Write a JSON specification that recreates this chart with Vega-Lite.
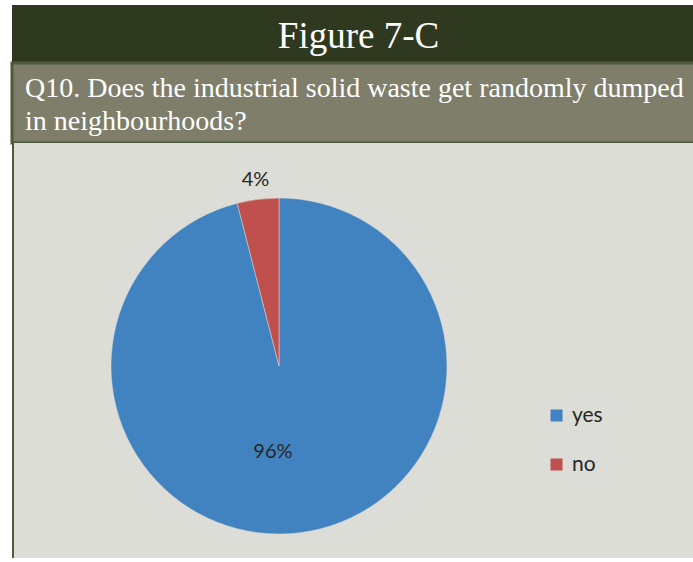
{
  "$schema": "https://vega.github.io/schema/vega-lite/v6.json",
  "background": "#ffffff",
  "padding": {"left": 10, "top": 5, "right": 0, "bottom": 4},
  "bounds": "flush",
  "spacing": 0,
  "config": {"view": {"stroke": null}, "concat": {"spacing": 0}},
  "vconcat": [
    {
      "width": 683,
      "height": 58,
      "view": {"fill": "#2f3920", "stroke": null},
      "data": {"values": [{"heading": "Figure 7-C"}]},
      "mark": {"type": "text", "font": "Liberation Serif", "fontSize": 37, "color": "#ffffff", "baseline": "middle", "dy": 3, "dx": 5},
      "encoding": {"text": {"field": "heading", "type": "nominal"}}
    },
    {
      "width": 683,
      "height": 80,
      "view": {"fill": "#7e7e6a", "stroke": "#4f5a3c", "strokeWidth": 3},
      "data": {"values": [{"question": ["Q10. Does the industrial solid waste get randomly dumped", "in neighbourhoods?"]}]},
      "mark": {"type": "text", "font": "Liberation Serif", "fontSize": 28, "color": "#ffffff", "align": "left", "baseline": "alphabetic", "lineHeight": 33},
      "encoding": {"text": {"field": "question", "type": "nominal"}, "x": {"value": 13}, "y": {"value": 34}}
    },
    {
      "spacing": 0,
      "bounds": "flush",
      "hconcat": [
        {
          "width": 2,
          "height": 415,
          "view": {"fill": "#4f5a3c", "stroke": null},
          "data": {"values": [{}]},
          "mark": {"type": "text"},
          "encoding": {"text": {"value": ""}}
        },
        {
          "spacing": 0,
          "bounds": "flush",
          "vconcat": [
            {
              "width": 681,
              "height": 31,
              "view": {"fill": "#dcddd7", "stroke": null},
              "data": {"values": [{}]},
              "mark": {"type": "text"},
              "encoding": {"text": {"value": ""}}
            },
            {
              "spacing": 0,
              "bounds": "flush",
              "resolve": {"scale": {"color": "independent", "theta": "independent"}, "legend": {"color": "independent"}},
              "hconcat": [
                {
                  "width": 530,
                  "height": 384,
                  "view": {"fill": "#dcddd7", "stroke": null},
                  "data": {"values": [
                    {"answer": "yes", "percent": 96, "label": "96%", "order": 1},
                    {"answer": "no", "percent": 4, "label": "4%", "order": 2}
                  ]},
                  "encoding": {
                    "theta": {"field": "percent", "type": "quantitative", "stack": true},
                    "order": {"field": "order", "type": "quantitative"}
                  },
                  "layer": [
                    {
                      "mark": {"type": "arc", "outerRadius": 168, "stroke": "#dcddd7", "strokeWidth": 0.5},
                      "encoding": {
                        "color": {"field": "answer", "type": "nominal", "scale": {"domain": ["yes", "no"], "range": ["#4083c0", "#c0504d"]}, "legend": null}
                      }
                    },
                    {
                      "mark": {"type": "text", "radius": 87, "dx": -17, "font": "Lato", "fontSize": 20, "color": "#262626", "baseline": "middle"},
                      "encoding": {"text": {"condition": {"test": "datum.answer === 'yes'", "field": "label", "type": "nominal"}, "value": ""}}
                    },
                    {
                      "mark": {"type": "text", "radius": 187, "font": "Lato", "fontSize": 20, "color": "#262626", "baseline": "middle"},
                      "encoding": {"text": {"condition": {"test": "datum.answer === 'no'", "field": "label", "type": "nominal"}, "value": ""}}
                    }
                  ]
                },
                {
                  "width": 151,
                  "height": 384,
                  "view": {"fill": "#dcddd7", "stroke": null},
                  "data": {"values": [
                    {"answer": "yes"},
                    {"answer": "no"}
                  ]},
                  "mark": {"type": "square", "opacity": 0},
                  "encoding": {
                    "color": {
                      "field": "answer", "type": "nominal",
                      "scale": {"domain": ["yes", "no"], "range": ["#4083c0", "#c0504d"]},
                      "legend": {"orient": "none", "legendX": 2, "legendY": 231, "title": null, "symbolType": "square", "symbolSize": 144, "symbolOpacity": 1, "symbolStrokeWidth": 0, "labelFont": "Lato", "labelFontSize": 21, "labelColor": "#262626", "rowPadding": 27, "labelOffset": 5}
                    }
                  }
                }
              ]
            }
          ]
        }
      ]
    }
  ]
}
